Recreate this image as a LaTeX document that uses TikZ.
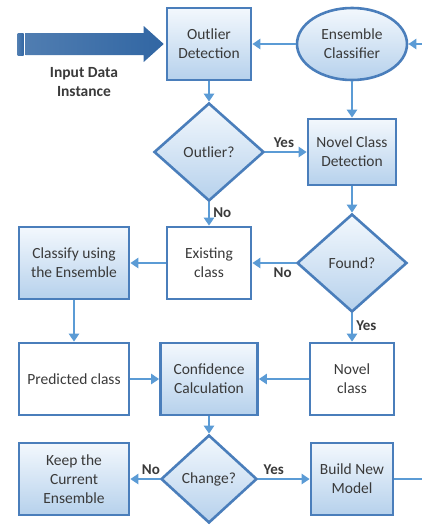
\documentclass[tikz,border=0pt]{standalone}
\usepackage{fontspec}
\setmainfont{Carlito}
\usepackage{tikz}
\usetikzlibrary{arrows.meta, positioning, shapes, calc}

\definecolor{rimblue}{HTML}{4A7EBB}
\definecolor{flowblue}{HTML}{5B9BD5}
\definecolor{filltop}{HTML}{F3F8FD}
\definecolor{fillbot}{HTML}{B6D1EC}
\definecolor{arrdark}{HTML}{3166A3}
\definecolor{arrlight}{HTML}{A9C6E6}
\definecolor{txtgrey}{HTML}{3A3A3A}

\tikzset{
    base/.style={draw=rimblue, line width=2.6pt, text=txtgrey, align=center,
        font=\fontsize{15.5}{19}\selectfont, inner sep=1pt},
    box/.style={base, rectangle, top color=filltop, bottom color=fillbot,
        minimum width=84pt, minimum height=72pt},
    plainbox/.style={base, rectangle, fill=white, minimum width=84pt, minimum height=72pt},
    oval/.style={base, ellipse, top color=filltop, bottom color=fillbot,
        minimum width=110pt, minimum height=72pt},
    decision/.style={base, diamond, top color=filltop, bottom color=fillbot,
        minimum width=110pt, minimum height=98pt, inner sep=0pt},
    flow/.style={draw=flowblue, line width=2pt, -{Triangle[length=8pt,width=10pt]}},
    tag/.style={font=\fontsize{15}{16}\selectfont\bfseries, text=txtgrey}
}

\begin{document}
\begin{tikzpicture}[node distance=110pt, x=1pt, y=1pt]
    \useasboundingbox (0,0) rectangle (422,-525);

    \node[box] (det) at (209,-44) {Outlier\\Detection};
    \node[oval] (ens) [right of=det, xshift=33pt] {Ensemble\\Classifier};
    \node[decision] (outq) [below of=det, yshift=2pt] {Outlier?};
    \node[box, minimum width=88pt, minimum height=66pt] (ncd) [right of=outq, xshift=33pt] {Novel Class\\Detection};
    \node[plainbox] (exist) [below of=outq, yshift=-1pt] {Existing\\class};
    \node[decision] (found) [right of=exist, xshift=33pt] {Found?};
    \node[box, minimum width=110pt] (clf) [left of=exist, xshift=-25pt] {Classify using\\the Ensemble};
    \node[plainbox, minimum width=110pt] (pred) [below of=clf, yshift=-6pt] {Predicted class};
    \node[box, minimum width=97pt] (conf) [right of=pred, xshift=25pt] {Confidence\\Calculation};
    \node[plainbox] (novel) [right of=conf, xshift=33pt] {Novel\\class};
    \node[decision, minimum width=96pt, minimum height=88pt] (chg) [below of=conf, yshift=10pt] {Change?};
    \node[box, minimum width=110pt] (keep) [left of=chg, xshift=-25pt] {Keep the\\Current\\Ensemble};
    \node[box, minimum width=82pt] (build) [right of=chg, xshift=33pt] {Build New\\Model};

    % input data arrow
    \shade[left color=arrdark!85!white, middle color=arrlight, right color=arrdark]
        ($(det.west)+(-148pt,11pt)$) rectangle ($(det.west)+(-142pt,-11pt)$);
    \shade[left color=arrdark!85!white, middle color=arrlight, right color=arrdark]
        ($(det.west)+(-140pt,11pt)$) -- ($(det.west)+(-22pt,11pt)$)
        -- ($(det.west)+(-22pt,18pt)$) -- ($(det.west)+(-2pt,0pt)$)
        -- ($(det.west)+(-22pt,-18pt)$) -- ($(det.west)+(-22pt,-11pt)$)
        -- ($(det.west)+(-140pt,-11pt)$) -- cycle;
    \node[tag, align=center, font=\fontsize{15.5}{19}\selectfont\bfseries] (inlbl) at (84,-82) {Input Data\\Instance};

    \coordinate (feed) at (422,-44);
    \coordinate (out) at (build.east -| feed);

    \draw[flow] (feed) -- (ens.east);
    \draw[flow] (ens.west) -- (det.east);
    \draw[flow] (det.south) -- (outq.north);
    \draw[flow] (ens.south) -- (ncd.north);
    \draw[flow] (outq.east) -- node[tag, above, pos=0.45] {Yes} (ncd.west);
    \draw[flow] (outq.south) -- node[tag, right, pos=0.45] {No} (exist.north);
    \draw[flow] (ncd.south) -- (found.north);
    \draw[flow] (found.west) -- node[tag, below, pos=0.3] {No} (exist.east);
    \draw[flow] (exist.west) -- (clf.east);
    \draw[flow] (clf.south) -- (pred.north);
    \draw[flow] (found.south) -- node[tag, right, pos=0.45] {Yes} (novel.north);
    \draw[flow] (pred.east) -- (conf.west);
    \draw[flow] (novel.west) -- (conf.east);
    \draw[flow] (conf.south) -- (chg.north);
    \draw[flow] (chg.west) -- node[tag, above, pos=0.3] {No} (keep.east);
    \draw[flow] (chg.east) -- node[tag, above, pos=0.3] {Yes} (build.west);
    \draw[draw=flowblue, line width=2pt] (build.east) -- (out);
\end{tikzpicture}
\end{document}
